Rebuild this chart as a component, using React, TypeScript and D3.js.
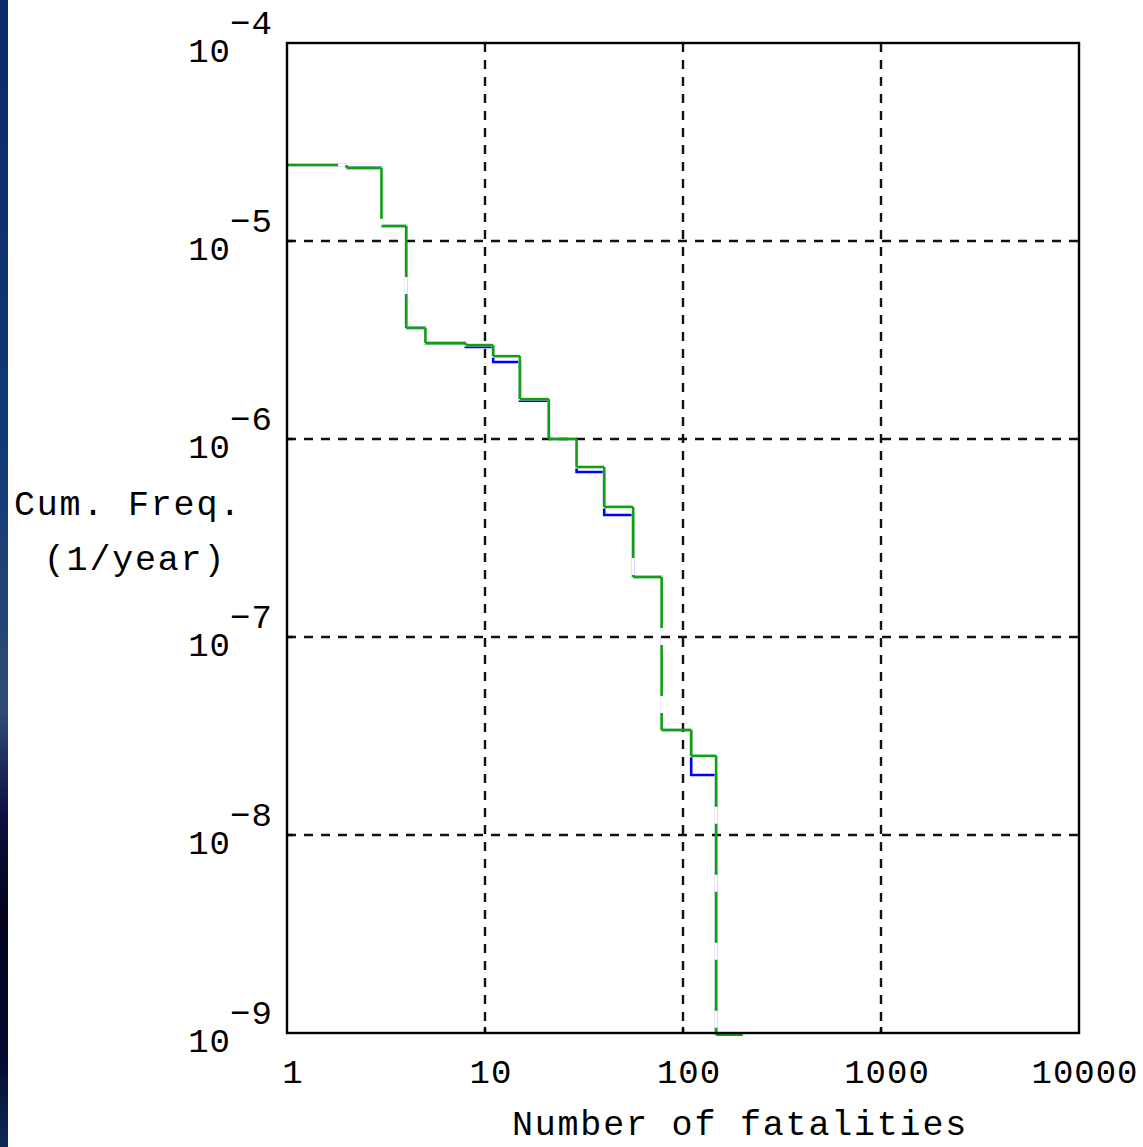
import React, { useEffect, useRef } from 'react'
import * as d3 from 'd3'

// step breakpoints (number of fatalities) and cumulative frequencies per interval
const xBreaks = [1, 2, 3, 4, 5, 8, 11, 15, 21, 29, 40, 56, 78, 110, 147, 200]
const greenFreq = [
  2.42e-5, 2.34e-5, 1.19e-5, 3.64e-6, 3.05e-6, 2.98e-6, 2.62e-6, 1.59e-6, 1.0e-6,
  7.22e-7, 4.54e-7, 2.01e-7, 3.39e-8, 2.51e-8, 9.8e-10,
]
const blueFreq = [
  2.42e-5, 2.34e-5, 1.19e-5, 3.64e-6, 3.05e-6, 2.92e-6, 2.45e-6, 1.56e-6, 1.0e-6,
  6.81e-7, 4.13e-7, 2.01e-7, 3.39e-8, 2.01e-8, 9.8e-10,
]
const xTicks = [1, 10, 100, 1000, 10000]
const yExponents = [-4, -5, -6, -7, -8, -9]

const App = () => {
  const svgRef = useRef<SVGSVGElement>(null)

  useEffect(() => {
    const width = 1143
    const height = 1147
    const margin = { top: 43, right: 64, bottom: 114, left: 287 }
    const font = "'Liberation Mono', 'DejaVu Sans Mono', monospace"

    const svg = d3.select(svgRef.current)
    svg.selectAll('*').remove()
    svg.attr('width', width).attr('height', height)

    const x = d3
      .scaleLog()
      .domain([1, 10000])
      .range([margin.left, width - margin.right])
    const y = d3
      .scaleLog()
      .domain([1e-4, 1e-9])
      .range([margin.top, height - margin.bottom])

    // background + dark strip on the left
    svg.append('rect').attr('width', width).attr('height', height).attr('fill', '#ffffff')
    const defs = svg.append('defs')
    const grad = defs
      .append('linearGradient')
      .attr('id', 'strip')
      .attr('x1', 0)
      .attr('y1', 0)
      .attr('x2', 0)
      .attr('y2', 1)
    const stops = [
      [0, '#0a2a68'],
      [0.4, '#123a78'],
      [0.62, '#2e4c74'],
      [0.71, '#0c1040'],
      [0.8, '#03031c'],
      [0.92, '#050a30'],
      [1, '#0c2a55'],
    ]
    grad
      .selectAll('stop')
      .data(stops)
      .enter()
      .append('stop')
      .attr('offset', (d) => d[0])
      .attr('stop-color', (d) => d[1])
    svg.append('rect').attr('width', 8).attr('height', height).attr('fill', 'url(#strip)')

    const [x0, x1] = x.range()
    const [y0, y1] = y.range()

    // grid
    svg
      .append('g')
      .selectAll('line')
      .data(yExponents.slice(1, -1))
      .enter()
      .append('line')
      .attr('x1', x0)
      .attr('x2', x1)
      .attr('y1', (e) => y(Math.pow(10, e)))
      .attr('y2', (e) => y(Math.pow(10, e)))
      .attr('stroke', '#111')
      .attr('stroke-width', 2.4)
      .attr('stroke-dasharray', '9,8')
    svg
      .append('g')
      .selectAll('line')
      .data(xTicks.slice(1, -1))
      .enter()
      .append('line')
      .attr('x1', (d) => x(d))
      .attr('x2', (d) => x(d))
      .attr('y1', y0)
      .attr('y2', y1)
      .attr('stroke', '#111')
      .attr('stroke-width', 2.4)
      .attr('stroke-dasharray', '9,8')

    const stepLine = d3
      .line<[number, number]>()
      .x((d) => x(d[0]))
      .y((d) => y(d[1]))
      .curve(d3.curveStepAfter)
    const stepPts = (freq: number[]): [number, number][] => {
      const pts: [number, number][] = freq.map((f, i) => [xBreaks[i], f])
      pts.push([xBreaks[xBreaks.length - 1], freq[freq.length - 1]])
      return pts
    }

    // blue hidden wherever the green curve runs (green gaps stay white)
    const mask = defs.append('mask').attr('id', 'greenMask').attr('maskUnits', 'userSpaceOnUse')
    mask.append('rect').attr('width', width).attr('height', height).attr('fill', '#fff')
    mask
      .append('path')
      .attr('d', stepLine(stepPts(greenFreq)))
      .attr('fill', 'none')
      .attr('stroke', '#000')
      .attr('stroke-width', 3)

    svg
      .append('path')
      .attr('d', stepLine(stepPts(blueFreq)))
      .attr('fill', 'none')
      .attr('stroke', '#0000ff')
      .attr('stroke-width', 2.6)
      .attr('mask', 'url(#greenMask)')

    // green step curve, dashed segment by segment
    const greenPts: [number, number][] = []
    greenFreq.forEach((f, i) => {
      greenPts.push([x(xBreaks[i]), y(f)])
      greenPts.push([x(xBreaks[i + 1]), y(f)])
    })
    const segs = d3.pairs(greenPts).filter(([a, b]) => a[0] !== b[0] || a[1] !== b[1])
    svg
      .append('g')
      .selectAll('line')
      .data(segs)
      .enter()
      .append('line')
      .attr('x1', (d) => d[0][0])
      .attr('y1', (d) => d[0][1])
      .attr('x2', (d) => d[1][0])
      .attr('y2', (d) => d[1][1])
      .attr('stroke', '#10a010')
      .attr('stroke-width', 2.6)
      .attr('stroke-dasharray', '51,17')

    // frame
    svg
      .append('rect')
      .attr('x', x0)
      .attr('y', y0)
      .attr('width', x1 - x0)
      .attr('height', y1 - y0)
      .attr('fill', 'none')
      .attr('stroke', '#000')
      .attr('stroke-width', 2.4)

    // inside ticks
    svg
      .append('g')
      .selectAll('line')
      .data(yExponents.slice(1, -1))
      .enter()
      .append('line')
      .attr('x1', x0)
      .attr('x2', x0 + 6)
      .attr('y1', (e) => y(Math.pow(10, e)))
      .attr('y2', (e) => y(Math.pow(10, e)))
      .attr('stroke', '#000')
      .attr('stroke-width', 2.4)
    svg
      .append('g')
      .selectAll('line')
      .data(xTicks.slice(1, -1))
      .enter()
      .append('line')
      .attr('x1', (d) => x(d))
      .attr('x2', (d) => x(d))
      .attr('y1', y1)
      .attr('y2', y1 - 6)
      .attr('stroke', '#000')
      .attr('stroke-width', 2.4)

    // y tick labels: 10 with superscript exponent
    const yLab = svg
      .append('g')
      .style('font-family', font)
      .style('font-size', '34px')
      .style('letter-spacing', '1px')
      .attr('fill', '#000')
    yExponents.forEach((e) => {
      const ty = y(Math.pow(10, e))
      yLab
        .append('text')
        .attr('x', 231)
        .attr('y', ty + 19)
        .attr('text-anchor', 'end')
        .text('10')
      yLab
        .append('text')
        .attr('x', 230)
        .attr('y', ty - 9)
        .text('\u2212' + Math.abs(e))
    })

    // x tick labels
    svg
      .append('g')
      .style('font-family', font)
      .style('font-size', '34px')
      .style('letter-spacing', '1px')
      .selectAll('text')
      .data(xTicks)
      .enter()
      .append('text')
      .attr('x', (d) => x(d) + 6)
      .attr('y', 1083)
      .attr('text-anchor', 'middle')
      .text((d) => String(d))

    // axis titles
    const title = (tx: number, ty: number, s: string) =>
      svg
        .append('text')
        .attr('x', tx)
        .attr('y', ty)
        .attr('text-anchor', 'middle')
        .style('font-family', font)
        .style('font-size', '35px')
        .style('letter-spacing', '1.8px')
        .text(s)
    title(740, 1135, 'Number of fatalities')
    title(128, 515, 'Cum. Freq.')
    title(135, 570, '(1/year)')
  }, [])

  return <svg ref={svgRef} style={{ position: 'absolute', left: 0, top: 0 }}></svg>
}

export default App
